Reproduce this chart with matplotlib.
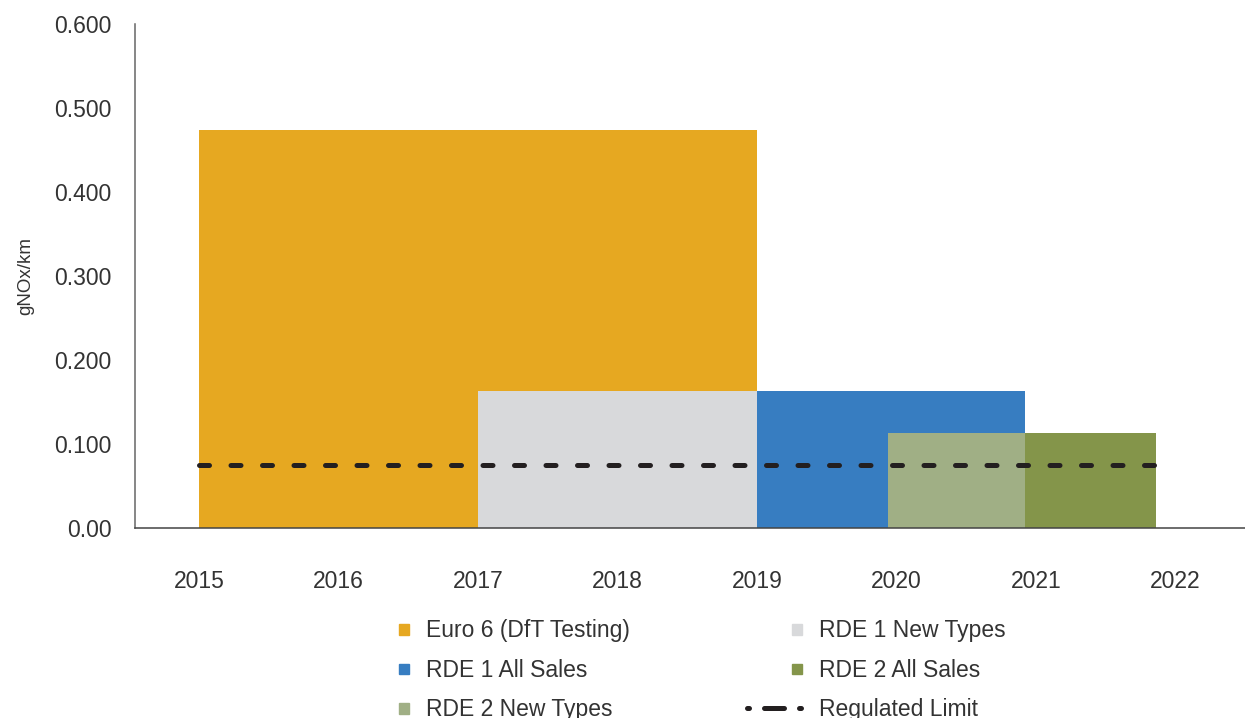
import matplotlib.pyplot as plt
from matplotlib.patches import Rectangle
from matplotlib.lines import Line2D
from matplotlib.legend_handler import HandlerPatch

years = [2015, 2016, 2017, 2018, 2019, 2020, 2021, 2022]
ytick_labels = ['0.00', '0.100', '0.200', '0.300', '0.400', '0.500', '0.600']

# each standard: start year, end year, gNOx/km
names = ['Euro 6 (DfT Testing)', 'RDE 1 New Types', 'RDE 1 All Sales',
         'RDE 2 New Types', 'RDE 2 All Sales']
starts = [2015, 2017, 2019, 2019.94, 2020.92]
ends = [2019, 2019, 2020.92, 2020.92, 2021.86]
values = [0.474, 0.163, 0.163, 0.113, 0.113]
colors = ['#E6A821', '#D8D9DB', '#377DC1', '#A0AF85', '#84954A']

limit_years = [2015, 2022]
limit_value = 0.075

plt.rcParams['font.family'] = ['Liberation Sans', 'DejaVu Sans']

fig = plt.figure(figsize=(12.45, 7.18), dpi=100)
ax = fig.add_axes([0.1084, 0.2646, 0.8916, 0.702])

for s, e, v, c in zip(starts, ends, values, colors):
    ax.bar(s, v, width=e - s, align='edge', color=c, linewidth=0)

ax.plot(limit_years, [limit_value, limit_value], color='#231F20',
        linewidth=3.6, dashes=(2.0, 4.3), dash_capstyle='round', zorder=5)

ax.set_xlim(2014.54, 2022.50)
ax.set_ylim(0, 0.6)
ax.set_xticks(years)
ax.set_xticklabels([str(y) for y in years])
ax.set_yticks([i / 10 for i in range(7)])
ax.set_yticklabels(ytick_labels)
ax.tick_params(axis='both', length=0, labelsize=16.5, labelcolor='#333333')
ax.tick_params(axis='x', pad=30)
ax.tick_params(axis='y', pad=17)
for side in ['top', 'right']:
    ax.spines[side].set_visible(False)
ax.spines['left'].set_color('#666666')
ax.spines['bottom'].set_color('#444444')
ax.spines['left'].set_linewidth(1.1)
ax.spines['bottom'].set_linewidth(1.1)
ax.set_ylabel('gNOx/km', fontsize=13.5, color='#333333', labelpad=14)


def square_at_right(legend, orig_handle, xdescent, ydescent, width, height, fontsize):
    s = 0.45 * fontsize
    gap = 0.3 * fontsize
    return Rectangle((-xdescent + width - s - gap, -ydescent + (height - s) / 2), s, s)


patches = [Rectangle((0, 0), 1, 1, color=c) for c in colors]
limit_proxy = Line2D([], [], color='#231F20', linewidth=3.6,
                     dashes=(0.4, 3.0, 4.0, 3.0, 0.4, 20), dash_capstyle='round')
handles = [patches[0], patches[2], patches[3], patches[1], patches[4], limit_proxy]
labels = [names[0], names[2], names[3], names[1], names[4], 'Regulated Limit']
fig.legend(handles, labels, ncol=2, loc='upper center',
           bbox_to_anchor=(0.546, 0.166), frameon=False, fontsize=16.5,
           handlelength=2.7, handletextpad=0.45, columnspacing=5.1,
           labelspacing=0.72, labelcolor='#333333',
           handler_map={Rectangle: HandlerPatch(patch_func=square_at_right)})

fig.savefig('out.png', dpi=100)
